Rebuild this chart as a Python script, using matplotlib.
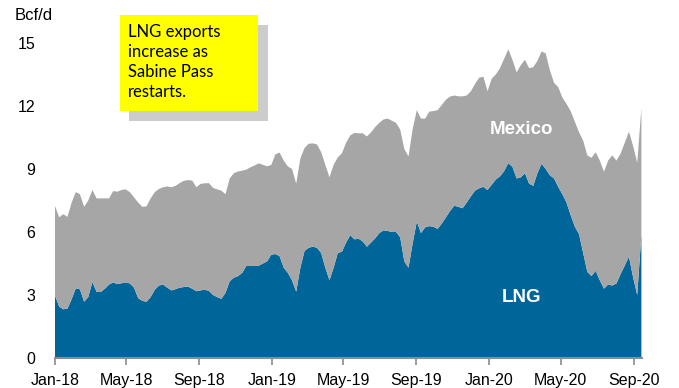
import pandas as pd
import matplotlib
matplotlib.use('Agg')
import matplotlib.pyplot as plt
import matplotlib.dates as mdates
from matplotlib.patches import Rectangle

# weekly US pipeline/LNG exports, Bcf/d
start_date = '2018-01-01'

lng = [2.97, 2.45, 2.32, 2.35, 2.8, 3.32, 3.27, 2.68, 2.9, 3.62,
       3.15, 3.14, 3.3, 3.5, 3.6, 3.52, 3.56, 3.6, 3.55, 3.35,
       2.85, 2.72, 2.68, 2.9, 3.25, 3.45, 3.5, 3.35, 3.22, 3.28,
       3.35, 3.38, 3.4, 3.3, 3.18, 3.22, 3.25, 3.2, 3.0, 2.9,
       2.82, 3.1, 3.65, 3.82, 3.9, 4.05, 4.38, 4.38, 4.38, 4.4,
       4.5, 4.6, 4.92, 4.95, 4.85, 4.3, 4.05, 3.7, 3.16, 4.3,
       5.1, 5.25, 5.3, 5.25, 5.0, 4.3, 3.7, 4.3, 5.0, 5.06,
       5.5, 5.85, 5.65, 5.68, 5.55, 5.3, 5.5, 5.7, 5.95, 6.08,
       6.05, 6.0, 6.0, 5.75, 4.6, 4.3, 5.46, 6.5, 5.95, 6.22,
       6.28, 6.25, 6.15, 6.4, 6.7, 7.0, 7.25, 7.2, 7.13, 7.4,
       7.7, 7.97, 8.08, 8.15, 8.0, 8.25, 8.5, 8.65, 8.9, 9.28,
       9.1, 8.55, 8.6, 8.8, 8.3, 8.2, 8.8, 9.25, 9.0, 8.7,
       8.55, 8.15, 7.8, 7.4, 6.8, 6.25, 5.9, 5.0, 4.1, 3.9,
       4.15, 3.7, 3.3, 3.5, 3.45, 3.55, 4.0, 4.4, 4.83, 3.85,
       3.0, 5.9]

mexico = [4.27, 4.25, 4.53, 4.37, 4.6, 4.58, 4.53, 4.52, 4.6, 4.38,
          4.45, 4.46, 4.3, 4.1, 4.35, 4.4, 4.44, 4.43, 4.35, 4.3,
          4.55, 4.48, 4.54, 4.7, 4.65, 4.6, 4.63, 4.82, 4.91, 4.92,
          4.98, 5.06, 5.07, 5.15, 4.95, 5.07, 5.07, 5.13, 5.1, 5.13,
          5.15, 4.7, 4.9, 4.98, 4.98, 4.87, 4.59, 4.7, 4.79, 4.87,
          4.7, 4.53, 4.27, 4.75, 4.93, 5.1, 5.07, 5.3, 5.14, 5.2,
          4.9, 4.95, 4.92, 4.92, 4.8, 4.9, 4.9, 4.9, 4.55, 4.69,
          4.75, 4.75, 5.07, 5.02, 5.15, 5.25, 5.25, 5.3, 5.25, 5.28,
          5.35, 5.3, 5.2, 5.13, 5.35, 5.3, 5.44, 5.3, 5.45, 5.18,
          5.45, 5.51, 5.65, 5.65, 5.6, 5.45, 5.25, 5.26, 5.33, 5.1,
          5.0, 5.08, 5.27, 5.25, 4.7, 5.05, 5.0, 5.15, 5.35, 5.42,
          5.1, 5.05, 5.35, 5.4, 5.5, 5.65, 5.35, 5.35, 5.5, 5.0,
          4.55, 4.75, 4.6, 4.7, 4.95, 5.0, 4.85, 5.35, 5.55, 5.63,
          5.65, 5.7, 5.57, 5.9, 6.2, 5.85, 5.73, 5.85, 5.95, 6.25,
          6.3, 6.0]

y_ticks = [0, 3, 6, 9, 12, 15]
note_text = 'LNG exports\nincrease as\nSabine Pass\nrestarts.'

dates = pd.date_range(start_date, periods=len(lng), freq='7D')

blue = '#006699'
grey = '#A6A6A6'
axis_grey = '#8C8C8C'

fig = plt.figure(figsize=(6.79, 3.88), dpi=100)
ax = fig.add_axes([55 / 679, 30 / 388, 587 / 679, 315 / 388])

ax.stackplot(dates, lng, mexico, colors=[blue, grey], linewidth=0)

ax.set_xlim(dates[0], dates[-1] + pd.Timedelta(days=1))
ax.set_ylim(0, 15)
ax.set_yticks(y_ticks)

ax.xaxis.set_major_locator(mdates.MonthLocator(bymonth=[1, 5, 9]))
ax.xaxis.set_major_formatter(mdates.DateFormatter('%b-%y'))

for side in ['top', 'right', 'left']:
	ax.spines[side].set_visible(False)
ax.spines['bottom'].set_color(axis_grey)
ax.spines['bottom'].set_linewidth(1.5)

ax.tick_params(axis='x', direction='out', length=5, width=1.2, color=axis_grey,
			   labelsize=11.5, pad=6)
ax.tick_params(axis='y', length=0, labelsize=11.5, pad=14)
for lbl in ax.get_xticklabels() + ax.get_yticklabels():
	lbl.set_fontfamily('Liberation Sans')

fig.text(15 / 679, 1 - 16 / 388, 'Bcf/d', fontsize=12, family='Liberation Sans',
		 ha='left', va='center')

# series labels
ax.text(pd.Timestamp('2020-02-26'), 10.86, 'Mexico', color='white', fontsize=13.5,
		fontweight='bold', family='Liberation Sans', ha='center', va='center')
ax.text(pd.Timestamp('2020-02-26'), 2.86, 'LNG', color='white', fontsize=13.5,
		fontweight='bold', family='Liberation Sans', ha='center', va='center')

# callout box with drop shadow
fig.add_artist(Rectangle((129 / 679, 1 - 121 / 388), 139 / 679, 96 / 388,
						 transform=fig.transFigure, facecolor='#CCCCCC', edgecolor='none'))
fig.add_artist(Rectangle((120 / 679, 1 - 111 / 388), 138 / 679, 96 / 388,
						 transform=fig.transFigure, facecolor='#FFFF00', edgecolor='none'))
fig.text(128 / 679, 1 - 24 / 388, note_text, fontsize=12, family='Lato',
		 ha='left', va='top', linespacing=1.3)

fig.savefig('out.png', dpi=100)
